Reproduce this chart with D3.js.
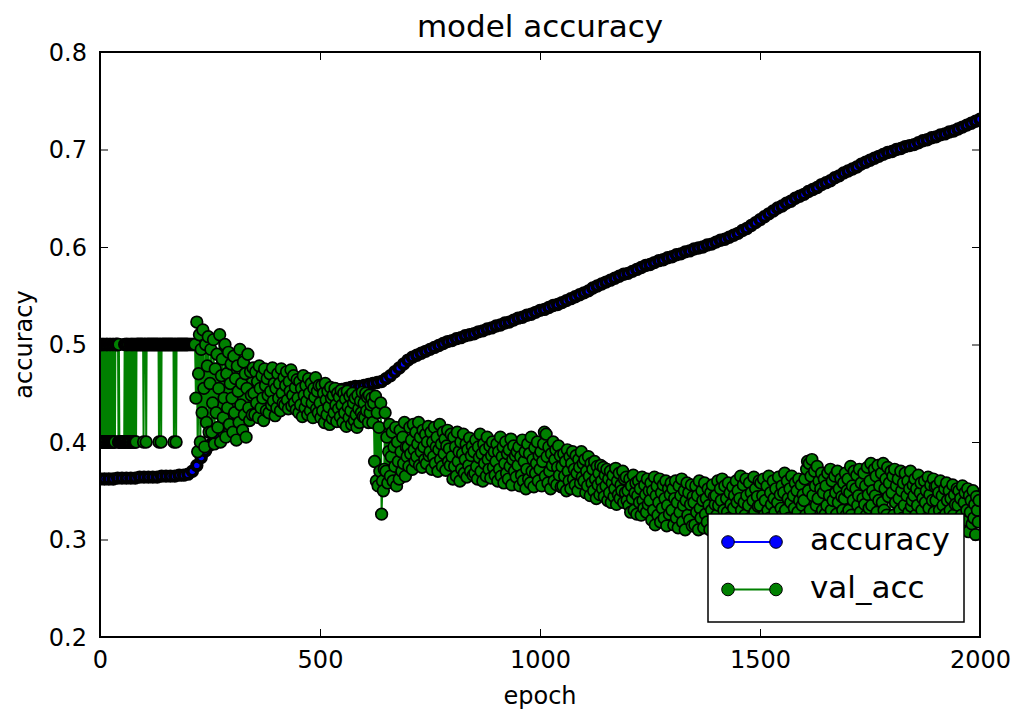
<!DOCTYPE html>
<html>
<head>
<meta charset="utf-8">
<script src="https://cdn.jsdelivr.net/npm/d3@7"></script>
<style>
  html, body { margin: 0; padding: 0; background: #fff; }
  svg { display: block; font-family: "DejaVu Sans", sans-serif; }
</style>
</head>
<body>
<svg id="chart" width="1018" height="717"></svg>
<script>
// Training accuracy, logged every 10 epochs (epoch 0 .. 2000)
const accStep = 10;
const accuracy = [
  0.362,0.362,0.362,0.362,0.363,0.363,0.363,0.363,0.363,0.364,0.364,0.364,0.364,0.364,0.365,0.365,0.365,0.365,0.366,0.366,0.367,
  0.370,0.376,0.384,0.391,0.397,0.402,0.406,0.410,0.414,0.417,
  0.420,0.423,0.426,0.429,0.431,0.434,0.436,0.438,0.440,0.442,
  0.443,0.444,0.445,0.446,0.447,0.448,0.449,0.450,0.451,0.452,
  0.452,0.453,0.453,0.454,0.454,0.455,0.456,0.457,0.457,0.458,
  0.459,0.460,0.461,0.462,0.465,0.468,0.472,0.476,0.480,0.484,
  0.487,0.489,0.491,0.493,0.495,0.497,0.499,0.501,0.503,0.504,
  0.506,0.507,0.509,0.510,0.511,0.513,0.514,0.516,0.517,0.519,
  0.520,0.522,0.523,0.525,0.527,0.528,0.530,0.531,0.533,0.535,
  0.536,0.538,0.540,0.541,0.543,0.545,0.547,0.549,0.551,0.553,
  0.555,0.558,0.560,0.562,0.564,0.566,0.568,0.570,0.572,0.573,
  0.575,0.577,0.579,0.581,0.582,0.584,0.586,0.587,0.589,0.590,
  0.592,0.593,0.595,0.596,0.598,0.599,0.600,0.602,0.603,0.605,
  0.607,0.608,0.610,0.612,0.614,0.617,0.619,0.622,0.625,0.628,
  0.631,0.634,0.637,0.640,0.642,0.645,0.647,0.650,0.652,0.654,
  0.657,0.659,0.661,0.664,0.666,0.668,0.671,0.673,0.676,0.678,
  0.680,0.682,0.685,0.687,0.689,0.691,0.693,0.695,0.697,0.698,
  0.700,0.701,0.703,0.704,0.705,0.707,0.709,0.710,0.712,0.713,
  0.715,0.716,0.718,0.719,0.721,0.723,0.725,0.727,0.729,0.731
];

// Validation accuracy, every epoch from 0 to 199 (flips between two values)
const valEarly = [
  0.5,0.5,0.4,0.5,0.4,0.4,0.5,0.4,0.5,0.4,
  0.5,0.4,0.4,0.5,0.4,0.5,0.5,0.4,0.5,0.4,
  0.4,0.5,0.4,0.5,0.4,0.5,0.4,0.4,0.5,0.4,
  0.5,0.4,0.5,0.4,0.4,0.5,0.5,0.5,0.5,0.5,
  0.5,0.5,0.4,0.5,0.4,0.4,0.4,0.4,0.4,0.4,
  0.4,0.4,0.4,0.4,0.4,0.4,0.5,0.4,0.5,0.4,
  0.5,0.5,0.4,0.5,0.4,0.5,0.4,0.4,0.5,0.4,
  0.5,0.4,0.5,0.5,0.4,0.5,0.4,0.5,0.4,0.5,
  0.4,0.5,0.4,0.5,0.5,0.5,0.5,0.5,0.5,0.5,
  0.5,0.5,0.5,0.5,0.5,0.5,0.5,0.5,0.5,0.4,
  0.5,0.5,0.5,0.5,0.5,0.4,0.5,0.5,0.5,0.5,
  0.5,0.5,0.5,0.5,0.5,0.5,0.5,0.5,0.5,0.5,
  0.5,0.5,0.5,0.5,0.5,0.5,0.5,0.5,0.5,0.5,
  0.5,0.5,0.5,0.5,0.4,0.5,0.5,0.5,0.5,0.4,
  0.5,0.5,0.5,0.5,0.5,0.5,0.5,0.5,0.5,0.5,
  0.5,0.5,0.5,0.5,0.5,0.5,0.5,0.5,0.5,0.5,
  0.5,0.5,0.5,0.5,0.5,0.5,0.5,0.5,0.4,0.5,
  0.5,0.5,0.5,0.4,0.5,0.5,0.5,0.5,0.5,0.5,
  0.5,0.5,0.5,0.5,0.5,0.5,0.5,0.5,0.5,0.5,
  0.5,0.5,0.5,0.5,0.5,0.5,0.5,0.5,0.5,0.5
];

// Validation accuracy, every 2 epochs from epoch 200 to 1998 (one row = 50 epochs)
const valLateStart = 200;
const valLateStep = 2;
const valLate = [
  0.5,0.5,0.5,0.5,0.5,0.5,0.5,0.5,0.5,0.445,0.523,0.39,0.47,0.51,0.40,0.495,0.43,0.515,0.455,0.395,0.50,0.42,0.478,0.508,0.41,
  0.46,0.495,0.41,0.44,0.505,0.398,0.475,0.43,0.49,0.415,0.455,0.51,0.40,0.468,0.485,0.425,0.445,0.50,0.405,0.47,0.435,0.492,0.418,0.46,0.48,
  0.445,0.41,0.488,0.43,0.465,0.402,0.478,0.452,0.42,0.495,0.438,0.46,0.412,0.482,0.428,0.47,0.405,0.455,0.49,0.435,0.422,0.472,0.448,0.428,0.476,
  0.45,0.428,0.472,0.44,0.462,0.425,0.478,0.455,0.435,0.468,0.445,0.422,0.475,0.458,0.432,0.465,0.448,0.43,0.47,0.452,0.438,0.476,0.442,0.46,0.427,
  0.455,0.435,0.47,0.445,0.46,0.432,0.475,0.45,0.44,0.466,0.438,0.458,0.472,0.443,0.434,0.462,0.452,0.474,0.437,0.448,0.468,0.44,0.456,0.433,0.464,
  0.445,0.43,0.462,0.438,0.455,0.426,0.468,0.448,0.435,0.458,0.442,0.428,0.465,0.45,0.432,0.46,0.44,0.425,0.455,0.446,0.466,0.434,0.452,0.43,0.458,
  0.44,0.425,0.458,0.432,0.45,0.42,0.46,0.443,0.428,0.452,0.436,0.418,0.456,0.445,0.424,0.448,0.43,0.455,0.438,0.421,0.45,0.434,0.446,0.426,0.453,
  0.438,0.42,0.45,0.43,0.444,0.416,0.452,0.436,0.425,0.447,0.432,0.418,0.45,0.44,0.422,0.445,0.428,0.415,0.448,0.434,0.42,0.442,0.43,0.451,0.426,
  0.44,0.425,0.45,0.432,0.446,0.42,0.448,0.43,0.438,0.445,0.42,0.44,0.38,0.447,0.36,0.43,0.355,0.415,0.37,0.44,0.326,0.36,0.35,0.372,0.43,
  0.37,0.405,0.358,0.39,0.418,0.365,0.385,0.41,0.36,0.395,0.375,0.415,0.355,0.40,0.38,0.362,0.412,0.39,0.37,0.405,0.378,0.42,0.365,0.395,0.385,
  0.395,0.375,0.415,0.388,0.402,0.372,0.418,0.392,0.38,0.41,0.385,0.398,0.42,0.376,0.405,0.39,0.374,0.412,0.395,0.382,0.408,0.378,0.40,0.416,0.386,
  0.39,0.41,0.372,0.40,0.385,0.415,0.378,0.395,0.405,0.37,0.392,0.418,0.382,0.398,0.375,0.41,0.388,0.403,0.371,0.396,0.412,0.38,0.393,0.376,0.408,
  0.385,0.362,0.405,0.375,0.395,0.365,0.41,0.38,0.39,0.36,0.40,0.372,0.388,0.408,0.368,0.382,0.398,0.364,0.392,0.376,0.404,0.37,0.386,0.396,0.366,
  0.39,0.368,0.402,0.375,0.362,0.395,0.384,0.408,0.37,0.388,0.36,0.398,0.378,0.392,0.365,0.405,0.382,0.372,0.396,0.363,0.386,0.40,0.374,0.39,0.366,
  0.38,0.398,0.36,0.39,0.372,0.405,0.365,0.385,0.395,0.358,0.378,0.40,0.368,0.388,0.362,0.392,0.375,0.403,0.356,0.382,0.396,0.37,0.386,0.364,0.39,
  0.376,0.395,0.355,0.385,0.366,0.402,0.36,0.38,0.39,0.352,0.372,0.398,0.362,0.388,0.358,0.405,0.37,0.382,0.354,0.394,0.368,0.378,0.40,0.36,0.386,
  0.372,0.39,0.355,0.38,0.398,0.41,0.365,0.408,0.385,0.358,0.395,0.37,0.352,0.388,0.376,0.40,0.36,0.382,0.392,0.356,0.374,0.396,0.366,0.386,0.354,
  0.375,0.355,0.388,0.365,0.38,0.35,0.392,0.37,0.36,0.385,0.352,0.378,0.39,0.362,0.372,0.356,0.386,0.368,0.35,0.382,0.374,0.358,0.39,0.364,0.378,
  0.36,0.382,0.348,0.37,0.355,0.385,0.365,0.345,0.378,0.358,0.372,0.35,0.38,0.362,0.342,0.375,0.356,0.368,0.346,0.376,0.36,0.352,0.374,0.344,0.366,
  0.355,0.372,0.34,0.362,0.348,0.37,0.338,0.358,0.366,0.344,0.352,0.373,0.336,0.36,0.346,0.368,0.342,0.356,0.35,0.37,0.338,0.362,0.348,0.364,0.34,
  0.35,0.335,0.362,0.328,0.355,0.342,0.366,0.33,0.348,0.358,0.326,0.345,0.36,0.338,0.352,0.325,0.364,0.34,0.332,0.356,0.346,0.328,0.362,0.336,0.35,
  0.34,0.358,0.32,0.35,0.33,0.364,0.315,0.345,0.355,0.325,0.338,0.362,0.318,0.348,0.332,0.356,0.322,0.342,0.36,0.314,0.335,0.352,0.326,0.346,0.358,
  0.33,0.352,0.315,0.342,0.36,0.322,0.338,0.312,0.355,0.328,0.345,0.362,0.318,0.335,0.35,0.31,0.34,0.358,0.325,0.348,0.32,0.336,0.356,0.314,0.344,
  0.338,0.315,0.355,0.328,0.345,0.31,0.36,0.332,0.322,0.35,0.34,0.312,0.358,0.326,0.342,0.318,0.352,0.335,0.31,0.348,0.33,0.356,0.32,0.344,0.336,
  0.345,0.325,0.36,0.335,0.315,0.352,0.34,0.362,0.318,0.33,0.355,0.312,0.342,0.328,0.358,0.322,0.348,0.336,0.31,0.354,0.332,0.345,0.316,0.36,0.338,
  0.35,0.32,0.342,0.365,0.33,0.312,0.356,0.338,0.325,0.362,0.345,0.315,0.335,0.358,0.322,0.348,0.31,0.34,0.364,0.328,0.352,0.318,0.344,0.334,0.36,
  0.335,0.358,0.318,0.345,0.362,0.325,0.34,0.312,0.355,0.33,0.365,0.322,0.348,0.336,0.315,0.36,0.342,0.328,0.352,0.31,0.338,0.364,0.32,0.346,0.332,
  0.355,0.325,0.348,0.368,0.33,0.315,0.36,0.342,0.322,0.352,0.338,0.365,0.318,0.345,0.332,0.358,0.312,0.35,0.328,0.362,0.34,0.32,0.356,0.335,0.346,
  0.34,0.362,0.325,0.372,0.38,0.35,0.378,0.33,0.365,0.382,0.345,0.32,0.37,0.355,0.335,0.375,0.342,0.36,0.322,0.352,0.368,0.33,0.348,0.362,0.326,
  0.355,0.335,0.368,0.322,0.345,0.372,0.33,0.36,0.34,0.318,0.365,0.348,0.326,0.37,0.338,0.352,0.32,0.362,0.344,0.33,0.358,0.342,0.368,0.325,0.35,
  0.362,0.33,0.348,0.375,0.325,0.355,0.34,0.37,0.32,0.352,0.366,0.335,0.345,0.372,0.328,0.358,0.318,0.342,0.368,0.336,0.355,0.325,0.374,0.346,0.332,
  0.36,0.378,0.335,0.35,0.322,0.372,0.345,0.365,0.328,0.376,0.34,0.355,0.318,0.368,0.338,0.378,0.33,0.352,0.362,0.325,0.374,0.344,0.358,0.32,0.37,
  0.348,0.365,0.325,0.372,0.338,0.355,0.318,0.362,0.342,0.33,0.37,0.35,0.322,0.358,0.335,0.368,0.315,0.345,0.36,0.328,0.352,0.37,0.334,0.34,0.356,
  0.345,0.362,0.325,0.352,0.335,0.366,0.318,0.348,0.358,0.33,0.342,0.315,0.36,0.338,0.35,0.322,0.364,0.332,0.346,0.356,0.32,0.34,0.362,0.328,0.354,
  0.34,0.355,0.318,0.348,0.33,0.36,0.322,0.345,0.335,0.312,0.352,0.326,0.358,0.34,0.315,0.35,0.33,0.342,0.31,0.356,0.325,0.346,0.336,0.32,0.352,
  0.335,0.35,0.315,0.342,0.325,0.355,0.31,0.338,0.348,0.32,0.33,0.352,0.308,0.345,0.328,0.34,0.316,0.35,0.322,0.336,0.305,0.344,0.33,0.318,0.34
];

const xTicks = [0, 500, 1000, 1500, 2000];
const yTicks = [0.2, 0.3, 0.4, 0.5, 0.6, 0.7, 0.8];
const seriesNames = ["accuracy", "val_acc"];
const seriesColors = ["#0000ff", "#008000"];
const titleText = "model accuracy";
const xLabel = "epoch";
const yLabel = "accuracy";

// ---- layout ----
const plot = { left: 100, right: 980, top: 52, bottom: 637 };
const svg = d3.select("#chart");
svg.append("rect").attr("width", 1018).attr("height", 717).attr("fill", "#fff");

const x = d3.scaleLinear().domain([0, 2000]).range([plot.left, plot.right]);
const y = d3.scaleLinear().domain([0.2, 0.8]).range([plot.bottom, plot.top]);

const accPts = accuracy.map((v, i) => [i * accStep, v]);
const valPts = valEarly.map((v, i) => [i, v])
  .concat(valLate.map((v, i) => [valLateStart + i * valLateStep, v]));

svg.append("clipPath").attr("id", "plotClip")
  .append("rect")
  .attr("x", plot.left).attr("y", plot.top)
  .attr("width", plot.right - plot.left).attr("height", plot.bottom - plot.top);

const dataG = svg.append("g").attr("clip-path", "url(#plotClip)");
const line = d3.line().x(d => x(d[0])).y(d => y(d[1]));

function drawSeries(pts, color, r, edge) {
  dataG.append("path").datum(pts)
    .attr("d", line).attr("fill", "none")
    .attr("stroke", color).attr("stroke-width", 2);
  dataG.append("g").selectAll("circle").data(pts).join("circle")
    .attr("cx", d => x(d[0])).attr("cy", d => y(d[1]))
    .attr("r", r).attr("fill", color)
    .attr("stroke", "#000").attr("stroke-width", edge);
}
// dense runs of overlapping markers read as a dark band
drawSeries(accPts, seriesColors[0], 4.7, 4.0);
drawSeries(valPts, seriesColors[1], 5.8, 1.7);

// ---- axes (ticks point inward on all four sides) ----
const tickLen = 8;
const gB = svg.append("g").attr("transform", `translate(0,${plot.bottom})`)
  .call(d3.axisBottom(x).tickValues(xTicks).tickSize(-tickLen).tickFormat(d3.format("d")));
const gT = svg.append("g").attr("transform", `translate(0,${plot.top})`)
  .call(d3.axisTop(x).tickValues(xTicks).tickSize(-tickLen).tickFormat(""));
const gL = svg.append("g").attr("transform", `translate(${plot.left},0)`)
  .call(d3.axisLeft(y).tickValues(yTicks).tickSize(-tickLen).tickFormat(d3.format(".1f")));
const gR = svg.append("g").attr("transform", `translate(${plot.right},0)`)
  .call(d3.axisRight(y).tickValues(yTicks).tickSize(-tickLen).tickFormat(""));

[gB, gT, gL, gR].forEach(g => {
  g.select(".domain").remove();
  g.selectAll(".tick line").attr("stroke", "#000").attr("stroke-width", 1);
  g.attr("font-family", null).attr("font-size", null);
});
gB.selectAll(".tick text")
  .attr("y", 31).attr("dy", null)
  .attr("font-size", 24).attr("fill", "#000");
gL.selectAll(".tick text")
  .attr("x", -13).attr("dy", null).attr("y", 8)
  .attr("font-size", 24).attr("fill", "#000");

// frame
svg.append("rect")
  .attr("x", plot.left).attr("y", plot.top)
  .attr("width", plot.right - plot.left).attr("height", plot.bottom - plot.top)
  .attr("fill", "none").attr("stroke", "#000").attr("stroke-width", 2);

// ---- titles ----
svg.append("text").attr("x", (plot.left + plot.right) / 2).attr("y", 36.5)
  .attr("text-anchor", "middle").attr("font-size", 31).attr("fill", "#000")
  .text(titleText);
svg.append("text").attr("x", (plot.left + plot.right) / 2).attr("y", 704)
  .attr("text-anchor", "middle").attr("font-size", 24).attr("fill", "#000")
  .text(xLabel);
svg.append("text")
  .attr("transform", `translate(32,${(plot.top + plot.bottom) / 2}) rotate(-90)`)
  .attr("text-anchor", "middle").attr("font-size", 24).attr("fill", "#000")
  .text(yLabel);

// ---- legend ----
const leg = svg.append("g");
leg.append("rect").attr("x", 708).attr("y", 514).attr("width", 256).attr("height", 108)
  .attr("fill", "#fff").attr("stroke", "#000").attr("stroke-width", 1.5);
seriesNames.forEach((name, i) => {
  const cy = 542 + i * 47.5;
  leg.append("line").attr("x1", 728).attr("x2", 776).attr("y1", cy).attr("y2", cy)
    .attr("stroke", seriesColors[i]).attr("stroke-width", 2);
  [728, 776].forEach(cx => leg.append("circle").attr("cx", cx).attr("cy", cy).attr("r", 6.3)
    .attr("fill", seriesColors[i]).attr("stroke", "#000").attr("stroke-width", 1));
  leg.append("text").attr("x", 810).attr("y", cy + 8).attr("font-size", 31).attr("fill", "#000")
    .text(name);
});
</script>
</body>
</html>
